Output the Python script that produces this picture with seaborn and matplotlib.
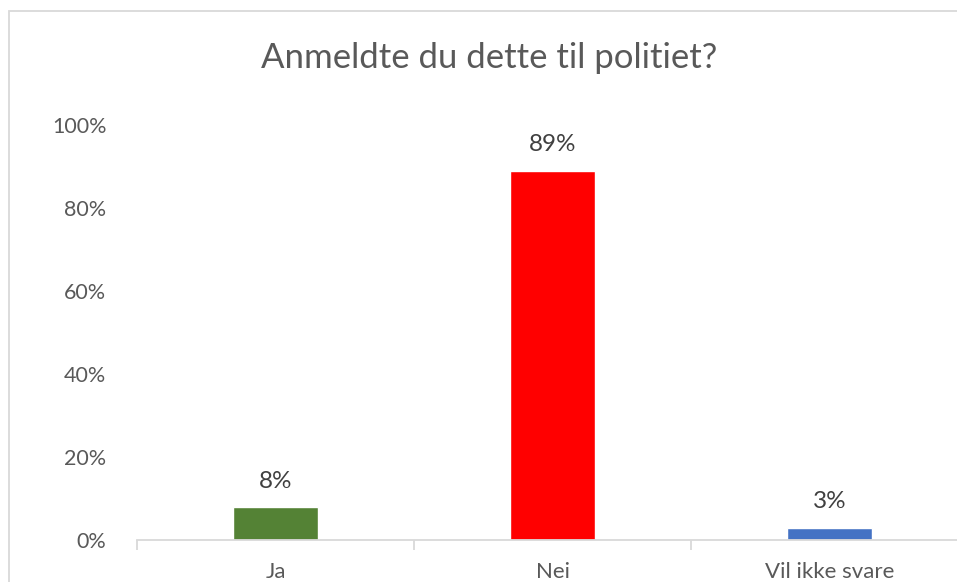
import seaborn as sns
import matplotlib.pyplot as plt
import pandas as pd
from matplotlib.patches import Rectangle

categories = ["Ja", "Nei", "Vil ikke svare"]
shares = [0.08, 0.89, 0.03]
colors = ["#548235", "#FF0000", "#4472C4"]
yticks = [0, 0.2, 0.4, 0.6, 0.8, 1.0]
ytick_labels = ["0%", "20%", "40%", "60%", "80%", "100%"]

df = pd.DataFrame({"svar": categories, "andel": shares})

sns.set_style("white")
plt.rcParams["font.family"] = ["Lato", "DejaVu Sans"]
text_color = "#595959"

fig = plt.figure(figsize=(9.57, 5.82), dpi=100)
# chart border, cut off at the right and bottom like the reference
fig.patches.append(Rectangle((9 / 957, -0.1), 1.2, 1.1 - 11 / 582, transform=fig.transFigure,
                             fill=False, edgecolor="#d9d9d9", linewidth=1.3))

ax = fig.add_axes([137 / 957, 42 / 582, 831 / 957, 415 / 582])
sns.barplot(data=df, x="svar", y="andel", hue="svar", palette=colors,
            width=0.31, saturation=1, legend=False, ax=ax)

ax.set_xlim(-0.5, 2.5)
ax.set_ylim(0, 1.0)
ax.set_yticks(yticks)
ax.set_yticklabels(ytick_labels)
ax.set_xlabel("")
ax.set_ylabel("")
for s in ["top", "right", "left"]:
    ax.spines[s].set_visible(False)
ax.spines["bottom"].set_color("#d9d9d9")
ax.spines["bottom"].set_linewidth(1.3)
ax.set_xticks([-0.5, 0.5, 1.5, 2.5], minor=True)
ax.tick_params(axis="x", which="minor", bottom=True, length=7, color="#d9d9d9",
               width=1.3, direction="out")
ax.tick_params(axis="x", which="major", bottom=False, length=0, pad=16,
               labelsize=16, labelcolor=text_color)
ax.tick_params(axis="y", length=0, pad=22, labelsize=15.5, labelcolor=text_color)

for i, v in enumerate(shares):
    ax.annotate(f"{v:.0%}", (i, v), xytext=(0, 11), textcoords="offset points",
                ha="center", va="bottom", fontsize=17.5, color="#404040")

fig.text(489 / 957, 1 - 58 / 582, "Anmeldte du dette til politiet?", ha="center", va="center",
         fontsize=25, color=text_color)

fig.savefig("out.png", dpi=100)
